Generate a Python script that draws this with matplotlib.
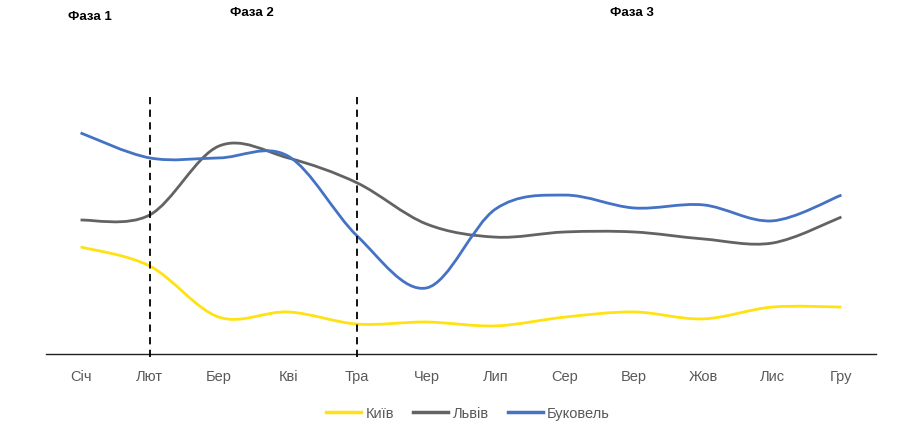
import matplotlib.pyplot as plt
from matplotlib.path import Path
from matplotlib.patches import PathPatch
from matplotlib.lines import Line2D

months = ['Січ', 'Лют', 'Бер', 'Кві', 'Тра', 'Чер', 'Лип', 'Сер', 'Вер', 'Жов', 'Лис', 'Гру']
kyiv = [41.5, 34.1, 14.3, 16.3, 11.6, 12.4, 10.9, 14.3, 16.3, 13.6, 18.2, 18.2]
lviv = [51.9, 53.9, 80.6, 76.0, 66.3, 50.4, 45.3, 47.3, 47.3, 44.6, 43.0, 53.1]
bukovel = [85.7, 76.0, 76.0, 76.7, 45.7, 25.6, 56.2, 61.6, 56.6, 57.8, 51.6, 61.6]
phase_marks = ['Лют', 'Тра']
phases = ['Фаза 1', 'Фаза 2', 'Фаза 3']

plt.rcParams['font.family'] = ['Liberation Sans', 'DejaVu Sans']

fig = plt.figure(figsize=(9, 4.39), dpi=100)
ax = fig.add_axes([46/900, 1-355/439, 830/900, 258/439])


def smooth_path(xs, ys):
    # згладжена лінія як у Excel: безьє через точки (catmull-rom)
    pts = list(zip(xs, ys))
    verts = [pts[0]]
    codes = [Path.MOVETO]
    n = len(pts)
    for i in range(n-1):
        p0 = pts[max(i-1, 0)]
        p1 = pts[i]
        p2 = pts[i+1]
        p3 = pts[min(i+2, n-1)]
        c1 = (p1[0] + (p2[0]-p0[0])/6, p1[1] + (p2[1]-p0[1])/6)
        c2 = (p2[0] - (p3[0]-p1[0])/6, p2[1] - (p3[1]-p1[1])/6)
        verts += [c1, c2, p2]
        codes += [Path.CURVE4]*3
    return Path(verts, codes)


x = list(range(len(months)))
series = [(kyiv, '#FFE211', 'Київ'), (lviv, '#636363', 'Львів'), (bukovel, '#4472C4', 'Буковель')]
handles = []
for vals, col, name in series:
    ax.add_patch(PathPatch(smooth_path(x, vals), fc='none', ec=col, lw=2.0, capstyle='butt', zorder=3))
    handles.append(Line2D([], [], color=col, lw=2.5, label=name))

for m in phase_marks:
    ax.plot([months.index(m)]*2, [-1, 100], color='black', lw=1.3, ls=(0, (4, 3)), zorder=4, clip_on=False)

ax.set_xlim(-0.5, len(months)-0.5)
ax.set_ylim(0, 100)
ax.set_xticks(x)
ax.set_xticklabels(months, fontsize=10.5, color='#595959')
ax.tick_params(axis='x', length=0, pad=11)
ax.set_yticks([])
for s in ['top', 'right', 'left']:
    ax.spines[s].set_visible(False)
ax.spines['bottom'].set_color('#222222')
ax.spines['bottom'].set_linewidth(1.0)

# підписи фаз
fig.text(90/900, 1-17/439, phases[0], ha='center', va='center', fontsize=9.5, fontweight='bold')
fig.text(252/900, 1-13/439, phases[1], ha='center', va='center', fontsize=9.5, fontweight='bold')
fig.text(632/900, 1-13/439, phases[2], ha='center', va='center', fontsize=9.5, fontweight='bold')

fig.legend(handles=handles, loc='center', bbox_to_anchor=(468/900, 1-414/439), ncol=3, frameon=False,
           fontsize=10.5, handlelength=2.4, handletextpad=0.3, columnspacing=1.3, labelcolor='#595959')

fig.savefig('out.png', dpi=100)
